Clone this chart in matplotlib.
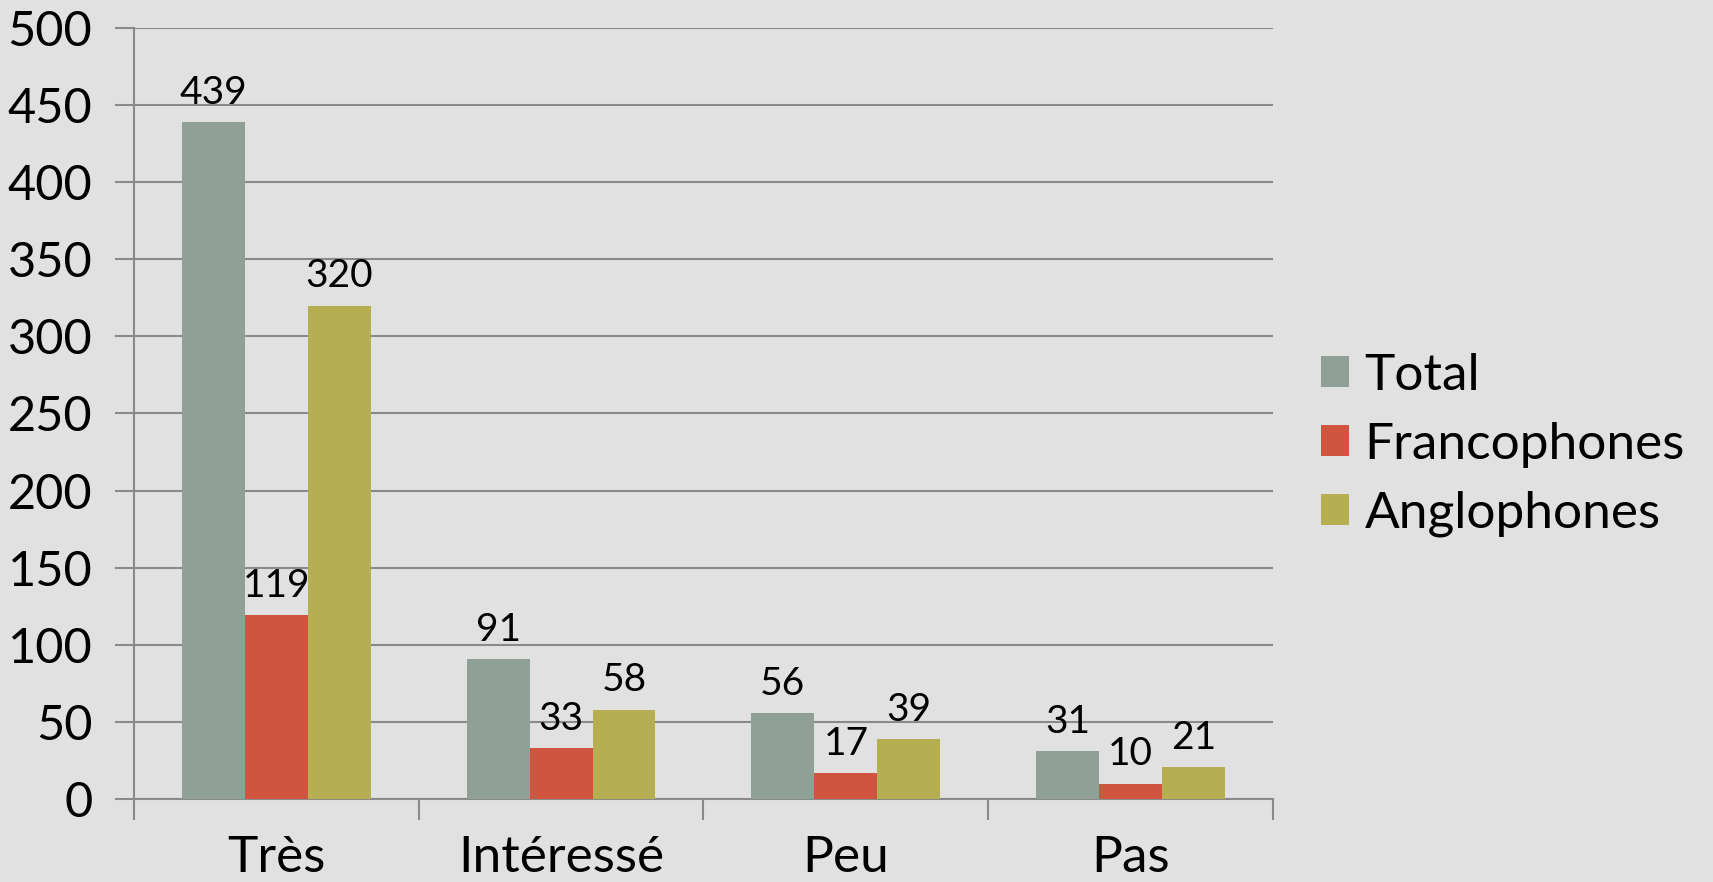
import matplotlib.pyplot as plt
import numpy as np

# données
categories = ["Très", "Intéressé", "Peu", "Pas"]
series_names = ["Total", "Francophones", "Anglophones"]
total = [439, 91, 56, 31]
francophones = [119, 33, 17, 10]
anglophones = [320, 58, 39, 21]
yticks = list(range(0, 501, 50))

colors = ["#91a096", "#d05540", "#b5af52"]
bg = "#e1e1e1"
gridc = "#8a8a8a"

plt.rcParams["font.family"] = ["Lato", "DejaVu Sans"]

fig = plt.figure(figsize=(17.13, 8.82), dpi=100, facecolor=bg)
ax = fig.add_axes([0.0782, 0.0941, 0.6649, 0.8742])
ax.set_facecolor(bg)

x = np.arange(len(categories))
w = 0.221
for i, (vals, name) in enumerate(zip([total, francophones, anglophones], series_names)):
    bars = ax.bar(x + (i - 1) * w, vals, width=w, color=colors[i], label=name, zorder=3)
    ax.bar_label(bars, padding=8, fontsize=28, color="black")

ax.set_xlim(-0.5, len(categories) - 0.5)
ax.set_ylim(0, 500)
ax.set_yticks(yticks)
ax.set_yticklabels([str(v) for v in yticks], fontsize=35)
ax.yaxis.grid(True, color=gridc, linewidth=1.5, zorder=0)

# graduations aux bords des catégories
ax.set_xticks(np.arange(-0.5, len(categories), 1.0))
ax.set_xticklabels([])
ax.set_xticks(x, minor=True)
ax.set_xticklabels(categories, minor=True, fontsize=37)
ax.tick_params(axis="x", which="major", length=15, width=1.5, color=gridc)
ax.tick_params(axis="x", which="minor", length=0, pad=26)
ax.tick_params(axis="y", length=14, width=1.5, color=gridc, pad=16)

for s in ["top", "right"]:
    ax.spines[s].set_visible(False)
for s in ["left", "bottom"]:
    ax.spines[s].set_color(gridc)
    ax.spines[s].set_linewidth(1.5)

fig.legend(loc="center left", bbox_to_anchor=(0.771, 0.4955), frameon=False,
           fontsize=37, handlelength=0.55, handleheight=0.55, handletextpad=0.3,
           labelspacing=0.45, borderpad=0, borderaxespad=0)

fig.savefig("out.png", dpi=100, facecolor=bg)
